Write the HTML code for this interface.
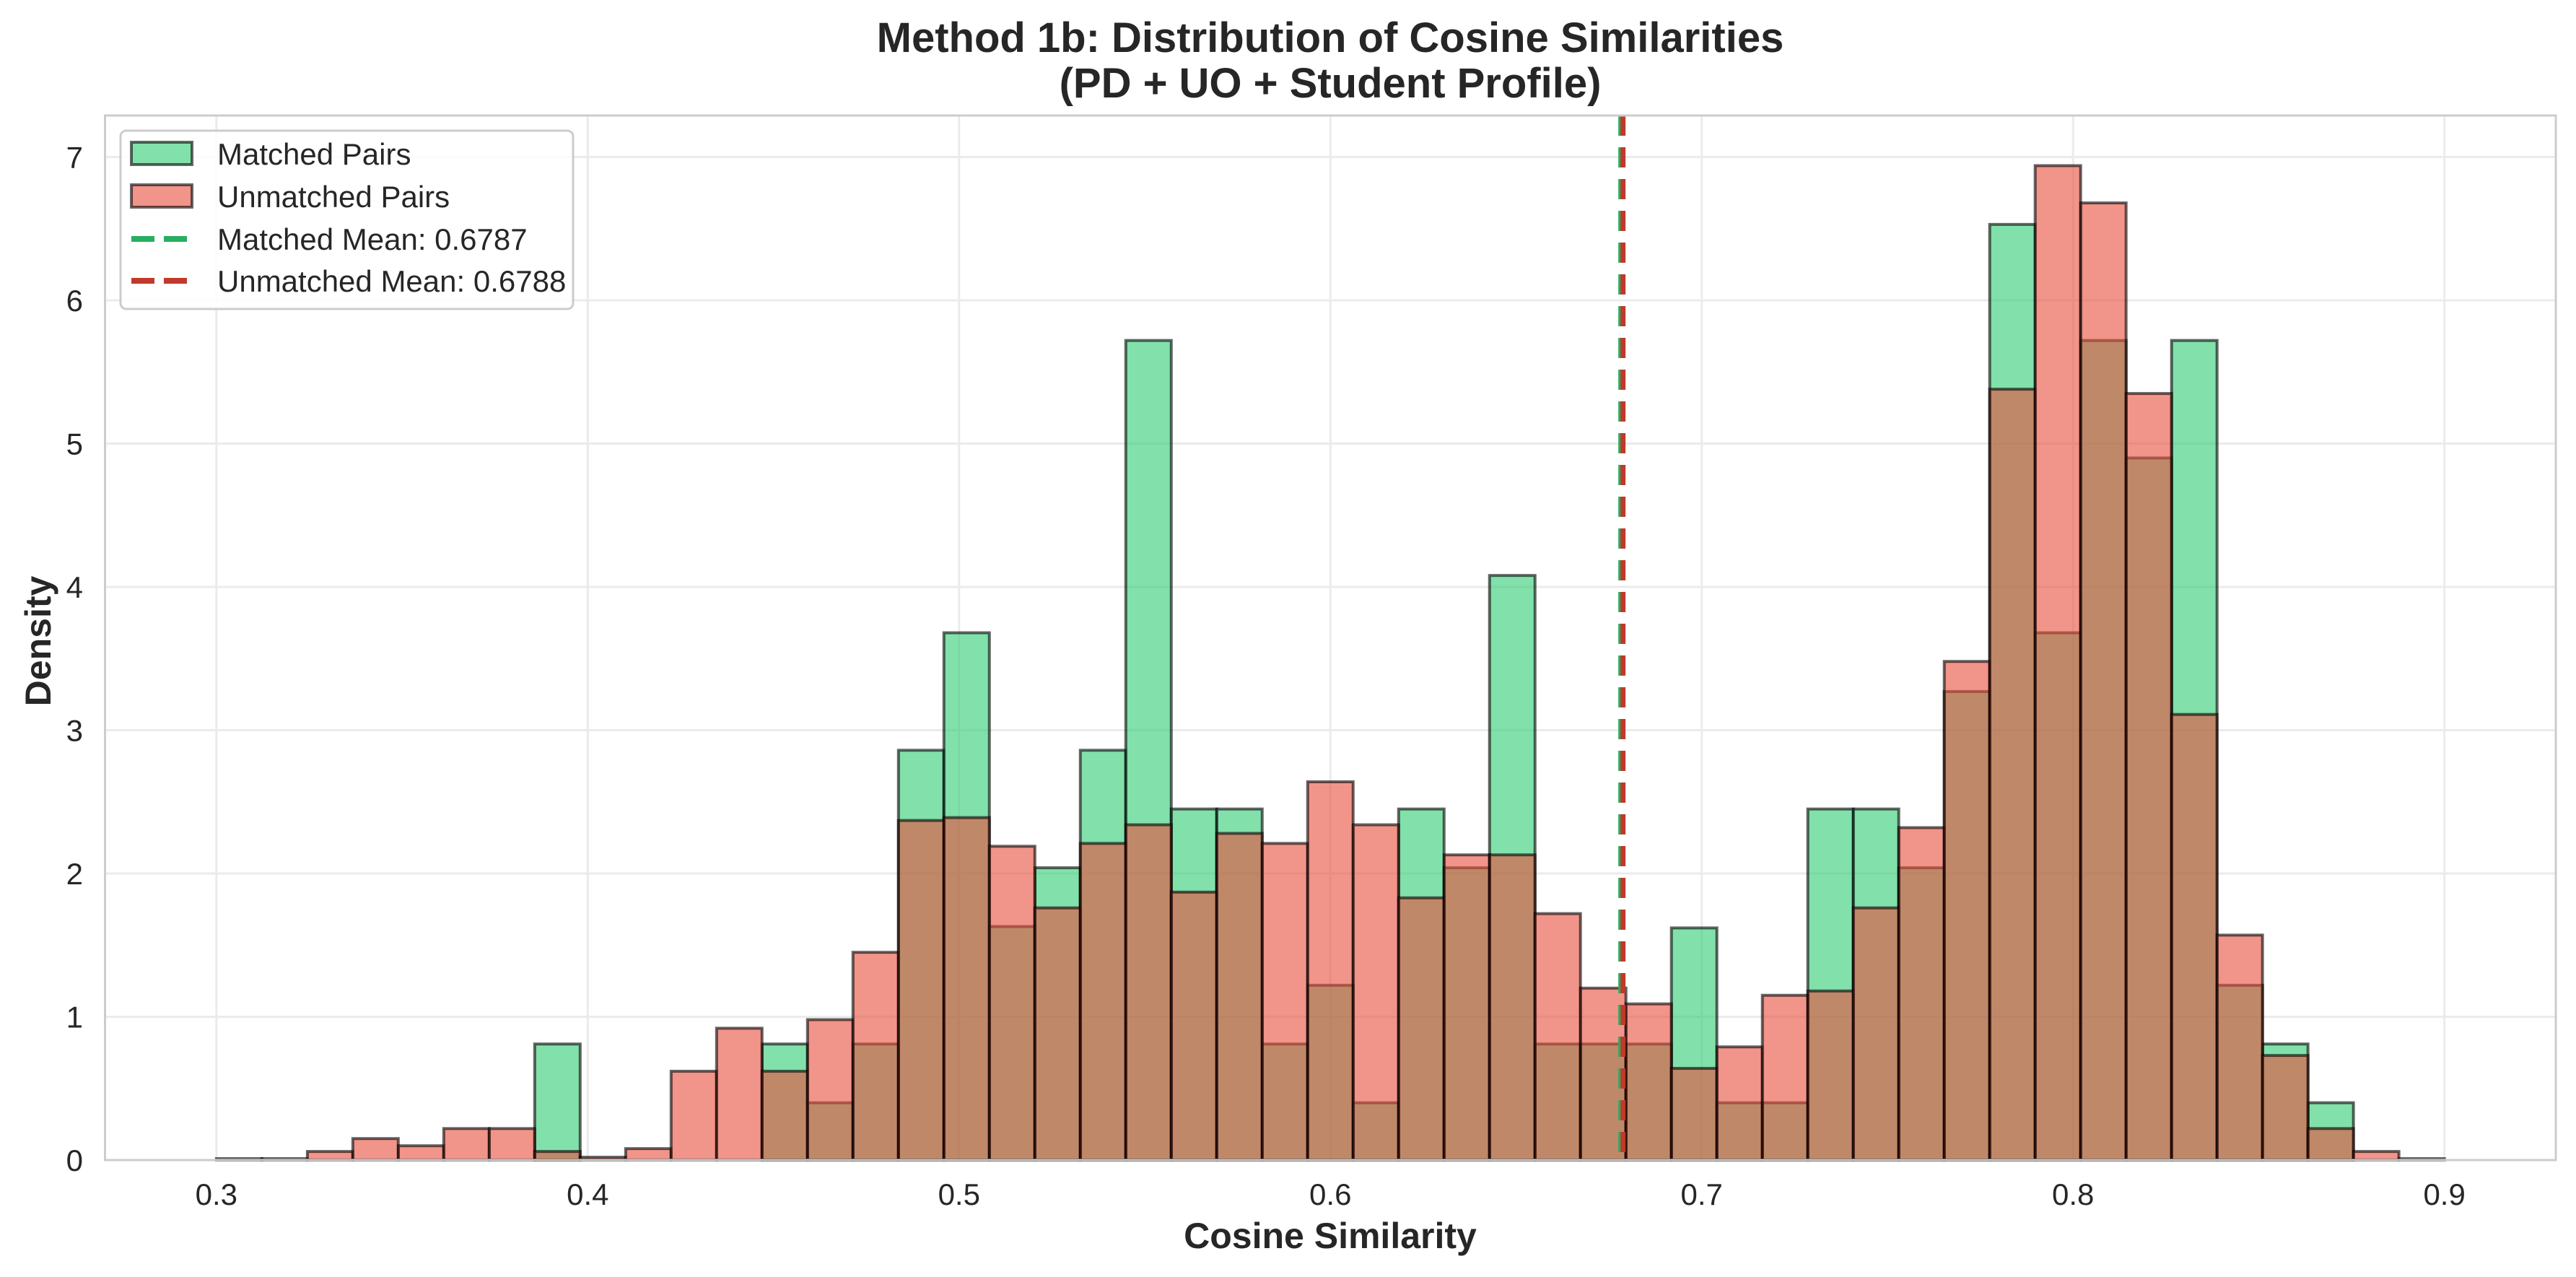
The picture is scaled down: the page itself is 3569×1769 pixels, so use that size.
<!DOCTYPE html>
<html><head><meta charset="utf-8"><style>
html,body{margin:0;padding:0;background:#fff;}
svg{display:block;font-family:"Liberation Sans",Arial,sans-serif;}
</style></head><body>
<svg id="chart" width="3569" height="1769" viewBox="0 0 3569 1769" xmlns="http://www.w3.org/2000/svg">
<rect x="0" y="0" width="3569" height="1769" fill="#fff"/>
<g id="grid"></g>
<g id="bars-matched"></g>
<g id="bars-unmatched"></g>
<g id="means"></g>
<rect x="145.5" y="160" width="3395.5" height="1447" fill="none" stroke="#cccccc" stroke-width="3"/>
<g id="ticks" fill="#262626" font-size="42"></g>
<text x="1843" y="72" text-anchor="middle" font-size="58" font-weight="bold" fill="#262626">Method 1b: Distribution of Cosine Similarities</text>
<text x="1843" y="135" text-anchor="middle" font-size="58" font-weight="bold" fill="#262626">(PD + UO + Student Profile)</text>
<text x="1843" y="1729" text-anchor="middle" font-size="50" font-weight="bold" fill="#262626">Cosine Similarity</text>
<text transform="translate(70,888) rotate(-90)" text-anchor="middle" font-size="50" font-weight="bold" fill="#262626">Density</text>
<g>
<rect x="167" y="181" width="627" height="247" rx="8" fill="#fff" fill-opacity="0.85" stroke="#cccccc" stroke-width="3"/>
<rect x="182" y="197" width="84" height="31" fill="#2ecc71" fill-opacity="0.6" stroke="#000" stroke-opacity="0.6" stroke-width="4"/>
<text x="301" y="228" font-size="42" fill="#262626">Matched Pairs</text>
<rect x="182" y="256" width="84" height="31" fill="#e74c3c" fill-opacity="0.6" stroke="#000" stroke-opacity="0.6" stroke-width="4"/>
<text x="301" y="287" font-size="42" fill="#262626">Unmatched Pairs</text>
<line x1="182" y1="331" x2="266" y2="331" stroke="#27ae60" stroke-width="8" stroke-dasharray="32,13"/>
<text x="301" y="346" font-size="42" fill="#262626">Matched Mean: 0.6787</text>
<line x1="182" y1="389" x2="266" y2="389" stroke="#c0392b" stroke-width="8" stroke-dasharray="32,13"/>
<text x="301" y="404" font-size="42" fill="#262626">Unmatched Mean: 0.6788</text>
</g>
</svg>
<script>
const binStart = 0.3;
const binEnd = 0.9;
const matched = [0,0,0,0,0,0,0,0.81,0,0,0,0,0.81,0.40,0.81,2.86,3.68,1.63,2.04,2.86,5.72,2.45,2.45,0.81,1.22,0.40,2.45,2.04,4.08,0.81,0.81,0.81,1.62,0.40,0.40,2.45,2.45,2.04,3.27,6.53,3.68,5.72,4.90,5.72,1.22,0.81,0.40,0,0];
const unmatched = [0.01,0.01,0.06,0.15,0.10,0.22,0.22,0.06,0.02,0.08,0.62,0.92,0.62,0.98,1.45,2.37,2.39,2.19,1.76,2.21,2.34,1.87,2.28,2.21,2.64,2.34,1.83,2.13,2.13,1.72,1.20,1.09,0.64,0.79,1.15,1.18,1.76,2.32,3.48,5.38,6.94,6.68,5.35,3.11,1.57,0.73,0.22,0.06,0.01];
const xTicks = [0.3,0.4,0.5,0.6,0.7,0.8,0.9];
const yTicks = [0,1,2,3,4,5,6,7];
const means = [0.6787,0.6788];

const NS = "http://www.w3.org/2000/svg";
const X0 = 145.5, X1 = 3541, Y0 = 1607, Y1 = 160;
const xmin = 0.27, xmax = 0.93, ymin = 0, ymax = 7.29;
function xs(v){ return X0 + (v - xmin) / (xmax - xmin) * (X1 - X0); }
function ys(v){ return Y0 - (v - ymin) / (ymax - ymin) * (Y0 - Y1); }
function mk(tag, attrs, parent){ const e = document.createElementNS(NS, tag); for (const k in attrs) e.setAttribute(k, attrs[k]); parent.appendChild(e); return e; }

const grid = document.getElementById('grid');
xTicks.forEach(t => {
  const l = mk('line', {x1: xs(t), x2: xs(t), y1: Y1, y2: Y0, stroke: '#ebebeb', 'stroke-width': 3}, grid);
  
  
});
yTicks.forEach(t => {
  const l = mk('line', {x1: X0, x2: X1, y1: ys(t), y2: ys(t), stroke: '#ebebeb', 'stroke-width': 3}, grid);
  
  
});

function drawBars(data, gid, color, name){
  const g = document.getElementById(gid);
  const n = data.length, w = (binEnd - binStart) / n;
  data.forEach((v, i) => {
    const a = xs(binStart + i * w), b = xs(binStart + (i + 1) * w);
    const top = ys(v);
    const r = mk('rect', {x: a, y: top, width: b - a, height: Math.max(0, Y0 - top), fill: color, 'fill-opacity': 0.6, stroke: '#000', 'stroke-opacity': 0.6, 'stroke-width': 4}, g);
    
    
  });
}
drawBars(matched, 'bars-matched', '#2ecc71', 'matched-bar');
drawBars(unmatched, 'bars-unmatched', '#e74c3c', 'unmatched-bar');

const mg = document.getElementById('means');
const m1 = mk('line', {x1: xs(means[0]) - 2, x2: xs(means[0]) - 2, y1: Y1, y2: Y0, stroke: '#27ae60', 'stroke-width': 8, 'stroke-dasharray': '28,16'}, mg);


const m2 = mk('line', {x1: xs(means[1]), x2: xs(means[1]), y1: Y1, y2: Y0, stroke: '#c0392b', 'stroke-width': 7, 'stroke-dasharray': '28,16'}, mg);



const tg = document.getElementById('ticks');
xTicks.forEach(t => {
  const e = mk('text', {x: xs(t), y: 1669, 'text-anchor': 'middle'}, tg);
  e.textContent = t.toFixed(1);
  
  
});
yTicks.forEach(t => {
  const e = mk('text', {x: 115, y: ys(t) + 15, 'text-anchor': 'end'}, tg);
  e.textContent = String(t);
  
  
});
</script>
</body></html>
